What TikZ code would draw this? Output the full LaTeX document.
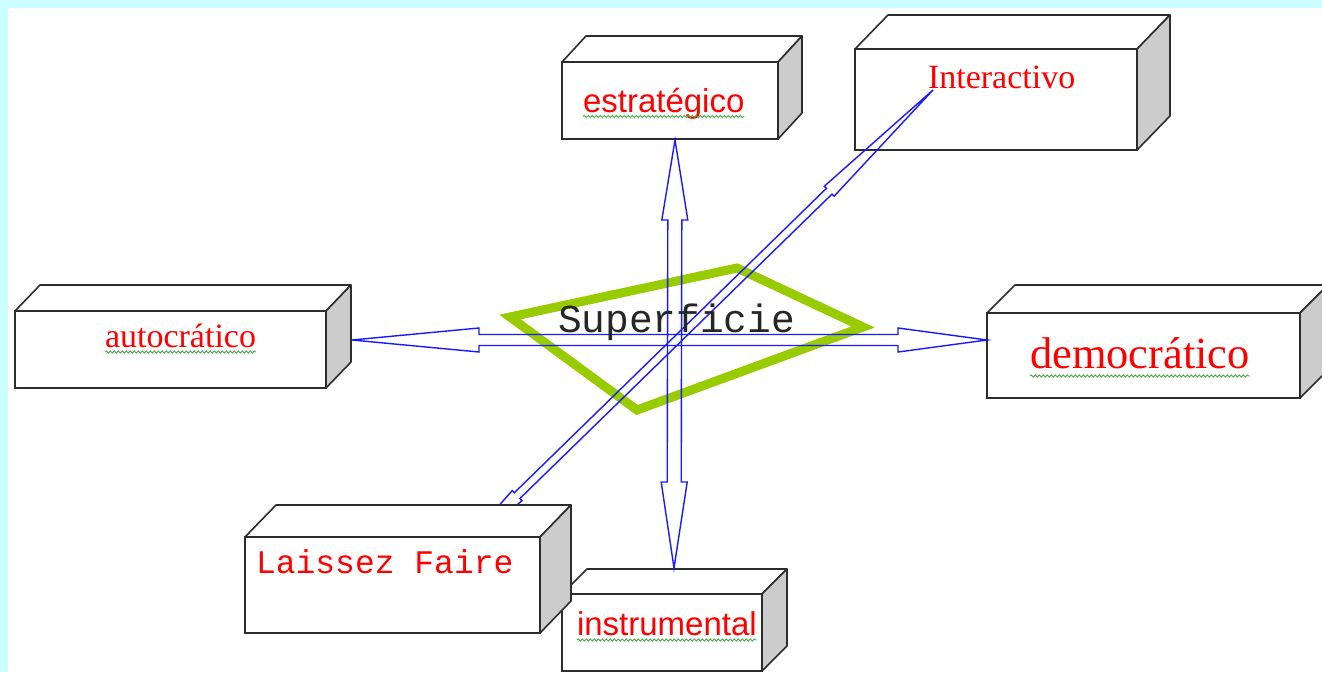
\documentclass[tikz,border=0pt]{standalone}
\usepackage{fontspec}
\setmainfont{Liberation Serif}
\newfontfamily\arialf{Liberation Sans}
\newfontfamily\courf{Liberation Mono}
\usetikzlibrary{calc,decorations.pathmorphing}
\definecolor{bgcyan}{RGB}{204,255,255}
\definecolor{sidegray}{RGB}{204,204,204}
\definecolor{edgegray}{RGB}{45,45,45}
\definecolor{limeg}{RGB}{153,204,0}
\definecolor{arrblue}{RGB}{25,25,255}
\definecolor{txtred}{RGB}{255,0,0}
\definecolor{spellg}{RGB}{70,170,70}
\tikzset{
  frontbox/.style={draw=edgegray, line width=1.6pt, fill=white, rectangle, inner sep=0pt, outer sep=0pt},
  boxedge/.style={draw=edgegray, line width=1.6pt, line join=round},
  lbl/.style={inner sep=0pt, outer sep=0pt, anchor=base west, text=txtred},
  blockarr/.style={draw=arrblue, line width=1.4pt, line join=miter},
  wavy/.style={draw=spellg, line width=0.9pt, decorate, decoration={snake, amplitude=1.1pt, segment length=4pt}},
  rim/.style={draw=limeg, line width=9pt, line join=miter},
}
% name, x, y (top-left, px), width, height, depth dx, depth dy(up)
\newcommand\mkbox[7]{%
  \node[frontbox, anchor=north west, minimum width=#4pt, minimum height=#5pt] (#1) at (#2,#3) {};
  \draw[boxedge, fill=white] (#1.north west) -- ++(#6pt,#7pt) -- ($(#1.north east)+(#6pt,#7pt)$) -- (#1.north east) -- cycle;
  \draw[boxedge, fill=sidegray] (#1.north east) -- ++(#6pt,#7pt) -- ($(#1.south east)+(#6pt,#7pt)$) -- (#1.south east) -- cycle;
}
% tip A, tip B, head length at A, head length at B, head half width, shaft half width
\newcommand\blkarrow[6]{%
  \coordinate (ba) at ($(#1)!#3!(#2)$);
  \coordinate (bb) at ($(#2)!#4!(#1)$);
  \draw[blockarr] (#1)
    -- ($(ba)!#5!90:(#2)$) -- ($(ba)!#6!90:(#2)$)
    -- ($(bb)!#6!-90:(#1)$) -- ($(bb)!#5!-90:(#1)$)
    -- (#2)
    -- ($(bb)!#5!90:(#1)$) -- ($(bb)!#6!90:(#1)$)
    -- ($(ba)!#6!-90:(#2)$) -- ($(ba)!#5!-90:(#2)$)
    -- cycle;
}
\begin{document}
\begin{tikzpicture}[x=1pt,y=-1pt]
\clip (0,0) rectangle (1322,672);
\fill[bgcyan] (0,0) rectangle (1322,672);
\fill[white] (8,8) rectangle (1322,672);

% boxes behind the connectors
\mkbox{int}{855}{49}{282}{101}{33}{34}
\mkbox{est}{562}{62}{216}{77}{24}{26}
\mkbox{aut}{15}{311}{311}{77}{25}{26}
\mkbox{dem}{987}{313}{313}{85}{28}{28}
\mkbox{ins}{562}{594}{200}{77}{25}{25}

% central quadrilateral
\draw[rim] (510,317) -- (737,268) -- (863,327) -- (637,410) -- cycle;

% connector end points
\coordinate (hL) at (352,340);
\coordinate (hR) at (987,340);
\coordinate (vT) at (675,140);
\coordinate (vB) at (674,568);
\coordinate (dT) at (933,90);
\coordinate (dB) at (447,564);

\blkarrow{hL}{hR}{127pt}{89pt}{12pt}{5.5pt}
\blkarrow{vT}{vB}{80pt}{86pt}{13pt}{7pt}
\blkarrow{dT}{dB}{145pt}{98pt}{7pt}{4pt}

% front box covering the lower end of the diagonal connector
\mkbox{lai}{245}{537}{295}{96}{31}{32}

% labels
\node[lbl, font=\arialf\fontsize{33}{36}\selectfont] (estT) at (583,112) {estratégico};
\node[lbl, font=\fontsize{34}{38}\selectfont] (intT) at (928,88) {Interactivo};
\node[lbl, font=\fontsize{34}{38}\selectfont] (autT) at (105,347) {autocrático};
\node[lbl, font=\fontsize{44.5}{48}\selectfont] (demT) at (1030,368) {democrático};
\node[lbl, font=\courf\fontsize{33}{36}\selectfont] (laiT) at (256,573) {Laissez Faire};
\node[lbl, font=\arialf\fontsize{33}{36}\selectfont] (insT) at (577,635) {instrumental};
\node[lbl, text=black!85, font=\courf\fontsize{39.5}{42}\selectfont] (supT) at (558,332) {Superficie};

% spell-check underlines
\draw[wavy] ($(estT.base west)+(0,4.5)$) -- ($(estT.base east)+(0,4.5)$);
\draw[wavy] ($(autT.base west)+(0,5)$) -- ($(autT.base east)+(0,5)$);
\draw[wavy] ($(demT.base west)+(0,8)$) -- ($(demT.base east)+(0,8)$);
\draw[wavy] ($(insT.base west)+(0,5)$) -- ($(insT.base east)+(0,5)$);
\end{tikzpicture}
\end{document}
